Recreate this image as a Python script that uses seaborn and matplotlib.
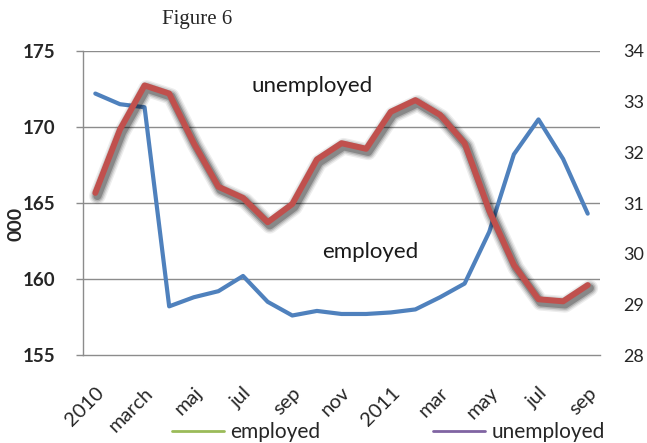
import numpy as np
import pandas as pd
import matplotlib
matplotlib.use("Agg")
import matplotlib.pyplot as plt
import matplotlib.patheffects as pe
import matplotlib.transforms as mtransforms
from matplotlib.lines import Line2D
import seaborn as sns

# Monthly series, January 2010 - September 2011
months = ["2010", "feb", "march", "apr", "maj", "jun", "jul", "aug", "sep", "okt",
          "nov", "dec", "2011", "feb", "mar", "apr", "may", "jun", "jul", "aug", "sep"]
employed = [172.2, 171.5, 171.3, 158.2, 158.8, 159.2, 160.2, 158.5, 157.6, 157.9,
            157.7, 157.7, 157.8, 158.0, 158.8, 159.7, 163.1, 168.2, 170.5, 167.9, 164.3]
unemployed = [31.2, 32.45, 33.32, 33.16, 32.18, 31.32, 31.1, 30.62, 30.98, 31.86,
              32.18, 32.07, 32.8, 33.03, 32.74, 32.18, 30.85, 29.78, 29.1, 29.06, 29.38]
shown_labels = ["2010", "march", "maj", "jul", "sep", "nov", "2011", "mar", "may", "jul", "sep"]

df = pd.DataFrame({"pos": np.arange(len(months)), "employed": employed,
                   "unemployed": unemployed})

sns.set_style("white")
plt.rcParams["font.family"] = ["Lato", "DejaVu Sans"]

BLUE = "#4F81BD"
RED = "#C0504D"
GRID = "#8C8C8C"

fig = plt.figure(figsize=(6.47, 4.43), dpi=100)
ax = fig.add_axes([0.1283, 0.1986, 0.7991, 0.6863])
ax2 = ax.twinx()

sns.lineplot(data=df, x="pos", y="employed", ax=ax, color=BLUE, linewidth=3.0,
             legend=False)

# Soft drop shadow under the unemployment line
shadow = [pe.SimpleLineShadow(offset=(1.5, -2.2), shadow_color="black", alpha=a,
                              rho=0.0, linewidth=w)
          for w, a in [(12, 0.07), (10, 0.1), (8, 0.15), (6, 0.24)]]
sns.lineplot(data=df, x="pos", y="unemployed", ax=ax2, color=RED, linewidth=4.3,
             legend=False)
ax2.lines[0].set_path_effects(shadow + [pe.Normal()])

# Axes limits and grid
ax.set_xlim(-0.5, len(months) - 0.5)
ax.set_ylim(155, 175)
ax2.set_ylim(28, 34)
ax.set_yticks([155, 160, 165, 170, 175])
ax2.set_yticks([28, 29, 30, 31, 32, 33, 34])
ax.grid(False)
ax2.grid(False)
for v in [160, 165, 170, 175]:
    ax.axhline(v, color=GRID, linewidth=1.0, zorder=0)

for a in (ax, ax2):
    for s in ["top", "right", "left", "bottom"]:
        a.spines[s].set_visible(False)
for s in ["left", "bottom"]:
    ax.spines[s].set_visible(True)
    ax.spines[s].set_color(GRID)
    ax.spines[s].set_linewidth(1.0)

# Category ticks
ax.set_xticks(np.arange(0, len(months), 2))
ax.set_xticklabels(shown_labels, rotation=45, ha="right", rotation_mode="anchor",
                   fontsize=14.5)
shift = mtransforms.ScaledTranslation(4 / 72, 0, fig.dpi_scale_trans)
for t in ax.get_xticklabels():
    t.set_transform(t.get_transform() + shift)
ax.set_xticks(np.arange(-0.5, len(months), 1), minor=True)
ax.tick_params(axis="x", which="major", length=0, pad=21)
ax.tick_params(axis="x", which="minor", length=5, color=GRID, width=1.0)
ax.tick_params(axis="y", length=5, color=GRID, width=1.0, labelsize=13.5, pad=15)
for t in ax.get_yticklabels():
    t.set_fontweight("bold")
ax2.tick_params(axis="y", length=0, labelsize=13, pad=16.5)

ax.set_xlabel("")
ax.set_ylabel("000", fontsize=14, fontweight="bold", labelpad=0)
ax.yaxis.set_label_coords(-0.114, 0.43)
ax2.set_ylabel("")

# Series annotations
ax.text(0.443, 0.885, "unemployed", transform=ax.transAxes, fontsize=16,
        ha="center", va="center", color="#1a1a1a")
ax.text(0.555, 0.34, "employed", transform=ax.transAxes, fontsize=16,
        ha="center", va="center", color="#1a1a1a")

fig.text(0.305, 0.955, "Figure 6", fontsize=15, family="Liberation Serif",
         ha="center", va="center")

handles = [Line2D([], [], color="#9BBB59", linewidth=2),
           Line2D([], [], color="#8064A2", linewidth=2)]
fig.legend(handles, ["employed", "unemployed"], loc="center",
           bbox_to_anchor=(0.6, 0.025), ncol=2, frameon=False, fontsize=15,
           handlelength=2.5, handletextpad=0.3, columnspacing=5.4)

fig.savefig("out.png", dpi=100)
